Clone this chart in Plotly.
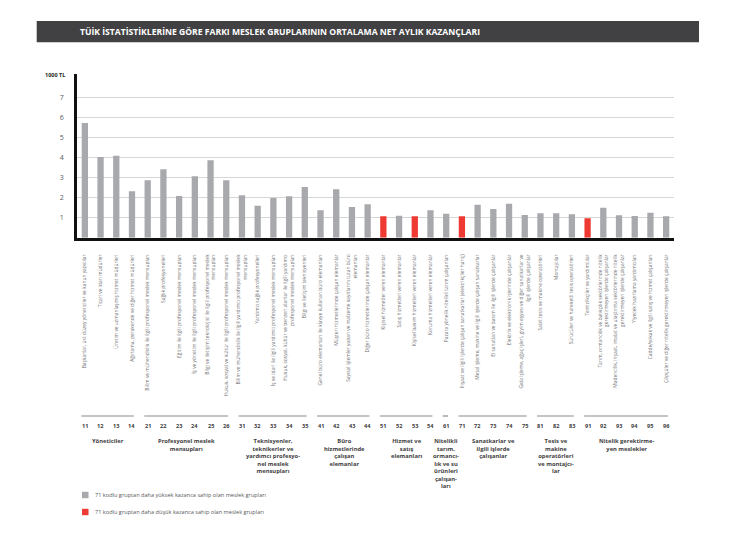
import plotly.graph_objects as go

W, H = 730, 533

codes = [11, 12, 13, 14, 21, 22, 23, 24, 25, 26, 31, 32, 33, 34, 35, 41, 42, 43, 44,
         51, 52, 53, 54, 61, 71, 72, 73, 74, 75, 81, 82, 83, 91, 92, 93, 94, 95, 96]

values = [5.73, 4.03, 4.10, 2.32, 2.87, 3.42, 2.08, 3.07, 3.87, 2.87, 2.12, 1.60, 1.98, 2.07, 2.53,
          1.37, 2.42, 1.53, 1.67, 1.07, 1.10, 1.07, 1.37, 1.20, 1.07, 1.65, 1.43, 1.70, 1.13,
          1.22, 1.22, 1.17, 0.97, 1.50, 1.12, 1.08, 1.25, 1.07]

lower_codes = [51, 53, 71, 91]

labels = [
    "Başkanlar, üst düzey yöneticiler ve kanun yapıcılar",
    "Ticari ve idari müdürler",
    "Üretim ve uzmanlaşmış hizmet müdürleri",
    "Ağırlama, perakende ve diğer hizmet müdürleri",
    "Bilim ve mühendislik ile ilgili profesyonel meslek mensupları",
    "Sağlık profesyonelleri",
    "Eğitim ile ilgili profesyonel meslek mensupları",
    "İş ve yönetim ile ilgili profesyonel meslek mensupları",
    "Bilgi ve iletişim teknolojisi ile ilgili profesyonel meslek<br>mensupları",
    "Hukuk, sosyal ve kültür ile ilgili profesyonel meslek mensupları",
    "Bilim ve mühendislik ile ilgili yardımcı profesyonel meslek<br>mensupları",
    "Yardımcı sağlık profesyonelleri",
    "İş ve idari ile ilgili yardımcı profesyonel meslek mensupları",
    "Hukuk, sosyal, kültür ve benzeri alanlar ile ilgili yardımcı<br>profesyonel meslek mensupları",
    "Bilgi ve iletişim teknisyenleri",
    "Genel büro elemanları ile klavye kullanan büro elemanları",
    "Müşteri hizmetlerinde çalışan elemanlar",
    "Sayısal işlemler yapan ve malzeme kayıtlarını tutan büro<br>elemanları",
    "Diğer büro hizmetlerinde çalışan elemanlar",
    "Kişisel hizmetler veren elemanlar",
    "Satış hizmetleri veren elemanlar",
    "Kişisel bakım hizmetleri veren elemanlar",
    "Koruma hizmetleri veren elemanlar",
    "Pazara yönelik nitelikli tarım çalışanları",
    "İnşaat ve ilgili işlerde çalışan sanatkarlar (elektrikçiler hariç)",
    "Metal işleme, makine ve ilgili işlerde çalışan sanatkarlar",
    "El sanatları ve basım ile ilgili işlerde çalışanlar",
    "Elektrik ve elektronik işlerinde çalışanlar",
    "Gıda işleme, ağaç işleri, giyim eşyası ve diğer sanatkarlar ve<br>ilgili işlerde çalışanlar",
    "Sabit tesis ve makine operatörleri",
    "Montajcılar",
    "Sürücüler ve hareketli tesis operatörleri",
    "Temizlikçiler ve yardımcılar",
    "Tarım, ormancılık ve balıkçılık sektörlerinde nitelik<br>gerektirmeyen işlerde çalışanlar",
    "Madencilik, inşaat, imalat ve ulaştırma sektörlerinde nitelik<br>gerektirmeyen işlerde çalışanlar",
    "Yiyecek hazırlama yardımcıları",
    "Cadde/sokak ve ilgili satış ve hizmet çalışanları",
    "Çöpçüler ve diğer nitelik gerektirmeyen işlerde çalışanlar",
]

group_names = [
    "Yöneticiler",
    "Profesyonel meslek<br>mensupları",
    "Teknisyenler,<br>teknikerler ve<br>yardımcı profesyo-<br>nel meslek<br>mensupları",
    "Büro<br>hizmetlerinde<br>çalışan<br>elemanlar",
    "Hizmet ve<br>satış<br>elemanları",
    "Nitelikli<br>tarım,<br>ormancı-<br>lık ve su<br>ürünleri<br>çalışan-<br>ları",
    "Sanatkarlar ve<br>ilgili işlerde<br>çalışanlar",
    "Tesis ve<br>makine<br>operatörleri<br>ve montajcı-<br>lar",
    "Nitelik gerektirme-<br>yen meslekler",
]
group_prefix = [1, 2, 3, 4, 5, 6, 7, 8, 9]

y_ticks = [1, 2, 3, 4, 5, 6, 7]

title_text = "TÜİK İSTATİSTİKLERİNE GÖRE FARKI MESLEK GRUPLARININ ORTALAMA NET AYLIK KAZANÇLARI"
unit_text = "1000 TL"
legend_texts = [
    "71 kodlu gruptan daha yüksek kazanca sahip olan meslek grupları",
    "71 kodlu gruptan daha düşük kazanca sahip olan meslek grupları",
]

GRAY = "#a7a9ac"
RED = "#ee3a33"
FONT = "Open Sans"


def px(x):
    return x / W


def py(y):
    return 1 - y / H


idx = list(range(len(codes)))
colors = [RED if c in lower_codes else GRAY for c in codes]

fig = go.Figure()
fig.add_trace(go.Bar(x=idx, y=values, marker=dict(color=colors, line=dict(width=0)),
                     width=0.4, hoverinfo="skip"))

x0p, x1p = 77, 674
ybase, ytop = 237.7, 74
yrange_top = (ybase - ytop) / 20.0

fig.update_layout(
    width=W, height=H,
    margin=dict(l=0, r=0, t=0, b=0),
    paper_bgcolor="white", plot_bgcolor="white",
    showlegend=False,
    font=dict(family=FONT),
    xaxis=dict(domain=[px(x0p), px(x1p)], range=[-0.5, len(codes) - 0.5],
               tickmode="array", tickvals=idx, ticktext=labels, tickangle=-90,
               tickfont=dict(size=4.9, color="#6d6e71", family=FONT),
               showgrid=False, zeroline=False, showline=True, linecolor="#111", linewidth=2.5,
               ticks="", ticklabelstandoff=12, fixedrange=True),
    yaxis=dict(domain=[py(ybase), py(ytop)], range=[0, yrange_top],
               tickmode="array", tickvals=y_ticks,
               tickfont=dict(size=7, color="#58595b", family=FONT),
               showgrid=True, gridcolor="#d6d6d6", gridwidth=1,
               zeroline=False, showline=True, linecolor="#111", linewidth=2.5,
               ticks="", ticklabelstandoff=9, fixedrange=True),
)

shapes = []
annotations = []

# title band
shapes.append(dict(type="rect", xref="paper", yref="paper", x0=px(36.7), x1=px(699),
                   y0=py(42.3), y1=py(21), fillcolor="#414042", line=dict(width=0), layer="below"))
annotations.append(dict(xref="paper", yref="paper", x=px(77.5), y=py(31.7), text="<b>" + title_text + "</b>",
                        showarrow=False, xanchor="left", yanchor="middle",
                        font=dict(size=8.6, color="white", family=FONT)))

# unit label
annotations.append(dict(xref="paper", yref="paper", x=px(67), y=py(75), text="<b>" + unit_text + "</b>",
                        showarrow=False, xanchor="right", yanchor="middle",
                        font=dict(size=5.5, color="#231f20", family=FONT)))

# code numbers
for i, c in enumerate(codes):
    annotations.append(dict(xref="x", yref="paper", x=i, y=py(425.7), text="<b>%d</b>" % c,
                            showarrow=False, xanchor="center", yanchor="middle",
                            font=dict(size=5.6, color="#414042", family=FONT)))

# groups
for g, name in zip(group_prefix, group_names):
    members = [i for i, c in enumerate(codes) if c // 10 == g]
    a, b = members[0], members[-1]
    shapes.append(dict(type="line", xref="x", yref="paper", x0=a - 0.22, x1=b + 0.12,
                       y0=py(416), y1=py(416), line=dict(color="#8a8a8a", width=1.2)))
    annotations.append(dict(xref="x", yref="paper", x=(a + b) / 2, y=py(434.5),
                            text="<b>" + name + "</b>", showarrow=False,
                            xanchor="center", yanchor="top", align="center",
                            font=dict(size=5.8, color="#414042", family=FONT)))

# legend
for k, (col, txt) in enumerate(zip([GRAY, RED], legend_texts)):
    yc = 495 + 17 * k
    shapes.append(dict(type="rect", xref="paper", yref="paper", x0=px(82), x1=px(88.5),
                       y0=py(yc + 3.2), y1=py(yc - 3.2), fillcolor=col, line=dict(width=0)))
    annotations.append(dict(xref="paper", yref="paper", x=px(93), y=py(yc), text=txt,
                            showarrow=False, xanchor="left", yanchor="middle",
                            font=dict(size=5.6, color="#58595b", family=FONT)))

fig.update_layout(shapes=shapes, annotations=annotations)
fig.write_html("out.html", config={"displayModeBar": False},
               post_script="document.body.style.margin='0';document.body.style.padding='0';")
